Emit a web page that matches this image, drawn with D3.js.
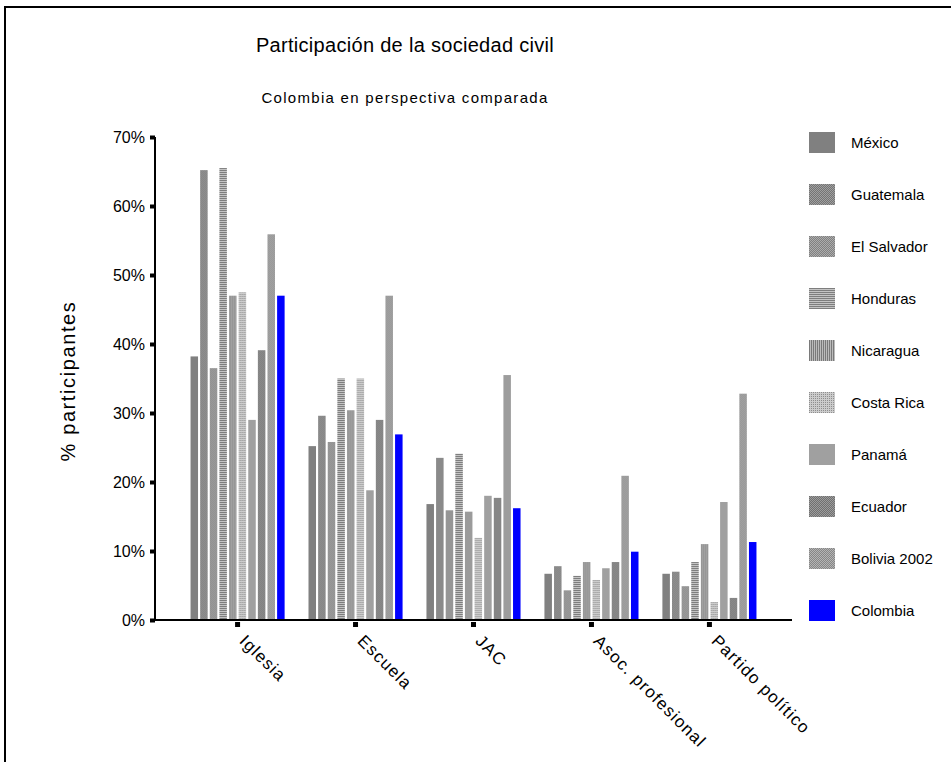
<!DOCTYPE html>
<html>
<head>
<meta charset="utf-8">
<script src="https://cdn.jsdelivr.net/npm/d3@7"></script>
<style>
  body { margin: 0; background: #fff; }
  text { font-family: "Liberation Sans", Arial, sans-serif; }
</style>
</head>
<body>
<script>
// Categories and series
var categories = ["Iglesia", "Escuela", "JAC", "Asoc. profesional", "Partido político"];
var countries = ["México", "Guatemala", "El Salvador", "Honduras", "Nicaragua",
                 "Costa Rica", "Panamá", "Ecuador", "Bolivia 2002", "Colombia"];

// % participantes, one array per country (Iglesia, Escuela, JAC, Asoc., Partido)
var mexico     = [38.2, 25.2, 16.8, 6.7, 6.7];
var guatemala  = [65.2, 29.6, 23.5, 7.8, 7.0];
var elSalvador = [36.5, 25.8, 15.9, 4.3, 4.9];
var honduras   = [65.5, 35.0, 24.1, 6.4, 8.4];
var nicaragua  = [47.0, 30.4, 15.7, 8.4, 11.0];
var costaRica  = [47.5, 35.0, 11.9, 5.8, 2.6];
var panama     = [29.0, 18.8, 18.0, 7.5, 17.1];
var ecuador    = [39.1, 29.0, 17.7, 8.4, 3.2];
var bolivia    = [55.9, 47.0, 35.5, 20.9, 32.8];
var colombia   = [47.0, 26.9, 16.2, 9.9, 11.3];

var yTicks = [0, 10, 20, 30, 40, 50, 60, 70];

var series = [mexico, guatemala, elSalvador, honduras, nicaragua,
              costaRica, panama, ecuador, bolivia, colombia];

var svg = d3.select("body").append("svg")
    .attr("width", 951)
    .attr("height", 762);

// patterns for the grey fills
var defs = svg.append("defs");
function pat(id, w, h, bg, cells) {
  var p = defs.append("pattern")
      .attr("id", id)
      .attr("patternUnits", "userSpaceOnUse")
      .attr("width", w).attr("height", h);
  p.append("rect").attr("width", w).attr("height", h).attr("fill", bg);
  cells.forEach(function(c) {
    p.append("rect").attr("x", c[0]).attr("y", c[1])
      .attr("width", c[2]).attr("height", c[3]).attr("fill", c[4]);
  });
}
pat("p-gua", 2, 2, "#a0a0a0", [[0, 0, 1, 1, "#747474"], [1, 1, 1, 1, "#747474"]]);
pat("p-sal", 2, 2, "#acacac", [[0, 0, 1, 1, "#808080"], [1, 1, 1, 1, "#808080"]]);
pat("p-hon", 2, 2, "#c4c4c4", [[0, 0, 2, 1, "#7e7e7e"]]);
pat("p-nic", 2, 2, "#bcbcbc", [[0, 0, 1, 2, "#7a7a7a"]]);
pat("p-cos", 2, 2, "#cccccc", [[0, 0, 1, 1, "#8e8e8e"]]);
pat("p-ecu", 2, 2, "#9c9c9c", [[0, 0, 1, 1, "#707070"], [1, 1, 1, 1, "#707070"]]);
pat("p-bol", 2, 2, "#b4b4b4", [[0, 0, 1, 1, "#868686"], [1, 1, 1, 1, "#868686"]]);

var fills = ["#808080", "url(#p-gua)", "url(#p-sal)", "url(#p-hon)", "url(#p-nic)",
             "url(#p-cos)", "#a0a0a0", "url(#p-ecu)", "url(#p-bol)", "#0000ff"];

// frame
svg.append("rect")
    .attr("x", 5).attr("y", 7)
    .attr("width", 960).attr("height", 780)
    .attr("fill", "none").attr("stroke", "#000").attr("stroke-width", 2);

// titles
svg.append("text")
    .attr("x", 405).attr("y", 52)
    .attr("text-anchor", "middle")
    .style("font-size", "20px").style("letter-spacing", "0.3px")
    .text("Participación de la sociedad civil");
svg.append("text")
    .attr("x", 405).attr("y", 103)
    .attr("text-anchor", "middle")
    .style("font-size", "15px").style("letter-spacing", "1.3px")
    .text("Colombia en perspectiva comparada");

// scales
var x0 = d3.scaleBand()
    .domain(categories)
    .range([155, 792])
    .paddingInner(0)
    .paddingOuter(0.2);

var x1 = d3.scaleBand()
    .domain(countries)
    .range([0, 96])
    .paddingInner(0.22)
    .paddingOuter(0.1);

var y = d3.scaleLinear()
    .domain([0, 70])
    .range([620, 137]);

// bars
var groups = svg.append("g").selectAll("g")
    .data(categories)
    .join("g")
    .attr("transform", function(d) {
      return "translate(" + (x0(d) + x0.bandwidth() / 2 - 48) + ",0)";
    });

groups.selectAll("rect")
    .data(function(d, i) {
      return countries.map(function(c, j) { return { c: c, j: j, v: series[j][i] }; });
    })
    .join("rect")
    .attr("x", function(d) { return x1(d.c); })
    .attr("y", function(d) { return y(d.v); })
    .attr("width", x1.bandwidth())
    .attr("height", function(d) { return y(0) - y(d.v); })
    .attr("fill", function(d) { return fills[d.j]; });

// y axis
var yAxis = svg.append("g")
    .attr("transform", "translate(155,0)")
    .call(d3.axisLeft(y).tickValues(yTicks).tickSize(5).tickPadding(5)
      .tickFormat(function(d) { return d + "%"; }));
yAxis.select(".domain").attr("stroke-width", 2).attr("d", "M0," + y(70) + "V" + (y(0) + 1));
yAxis.selectAll(".tick line").attr("stroke-width", 4);
yAxis.selectAll(".tick text")
    .style("font-size", "16px")
    .attr("fill", "#000");

// x axis
var xAxis = svg.append("g")
    .attr("transform", "translate(0," + y(0) + ")")
    .call(d3.axisBottom(x0).tickSize(7).tickPadding(0));
xAxis.select(".domain").attr("stroke-width", 2).attr("d", "M154,0H792");
xAxis.selectAll(".tick line").attr("stroke-width", 5).attr("y1", 2);
xAxis.selectAll(".tick text")
    .style("font-size", "17px")
    .style("letter-spacing", "1.2px")
    .attr("fill", "#000")
    .attr("text-anchor", "start")
    .attr("dy", null)
    .attr("transform", "translate(6,17) rotate(45)");

// y label
svg.append("text")
    .attr("transform", "translate(75,381) rotate(-90)")
    .attr("text-anchor", "middle")
    .style("font-size", "20px")
    .style("letter-spacing", "1.6px")
    .text("% participantes");

// legend
var legend = svg.append("g").selectAll("g")
    .data(countries)
    .join("g")
    .attr("transform", function(d, i) { return "translate(809," + (132 + i * 52) + ")"; });
legend.append("rect")
    .attr("width", 26).attr("height", 21)
    .attr("fill", function(d, i) { return fills[i]; });
legend.append("text")
    .attr("x", 42).attr("y", 16)
    .style("font-size", "15px")
    .text(function(d) { return d; });
</script>
</body>
</html>
